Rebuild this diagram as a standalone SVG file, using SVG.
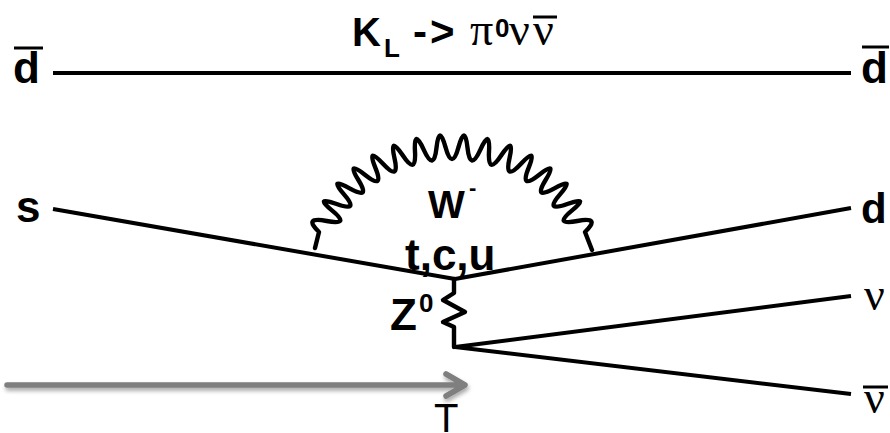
<svg xmlns="http://www.w3.org/2000/svg" width="890" height="433" viewBox="0 0 890 433">
<style>
.l{fill:none;stroke:#000;stroke-width:4;stroke-linecap:butt;stroke-linejoin:round}
.w{fill:none;stroke:#000;stroke-width:4.4;stroke-linejoin:round;stroke-linecap:round}
.b{font-family:"Liberation Sans",Arial,sans-serif;font-weight:700;fill:#000}
.g{font-family:"Liberation Serif","Times New Roman",serif;fill:#000}
.bar{stroke:#000;stroke-width:3;fill:none}
</style>
<defs><filter id="sh" x="-5%" y="-50%" width="110%" height="200%"><feGaussianBlur in="SourceAlpha" stdDeviation="2"/><feOffset dx="1" dy="3"/><feComponentTransfer><feFuncA type="linear" slope="0.35"/></feComponentTransfer><feMerge><feMergeNode/><feMergeNode in="SourceGraphic"/></feMerge></filter></defs>
<rect width="890" height="433" fill="#fff"/>
<g id="connectors">
<path class="l" d="M53 73H851"/>
<path class="l" d="M53 209L455 279L851 208"/>
<path class="l" d="M455 347L851 296"/>
<path class="l" d="M455 347L851 394"/>
<path class="w" d="M315 248L319 232Q302.5 216.4 326.7 221Q351 225.7 332.2 210.6Q313.4 195.6 336.7 204Q360 212.5 344 194.4Q328 176.2 349.6 188.4Q371.2 200.5 358.4 180Q345.6 159.5 365.2 174.9Q384.7 190.3 375.4 167.9Q366.1 145.4 383 163.7Q400 182 394.5 158.3Q389 134.6 402.7 155.3Q416.4 176 415 151.7Q413.5 127.3 423.8 149.8Q434 172.2 436.5 147.8Q439 123.4 445.5 147.2Q452 171 458.5 147.2Q465 123.4 467.5 147.8Q470 172.2 480.3 149.8Q490.5 127.3 489 151.7Q487.6 176 501.3 155.3Q515 134.6 509.5 158.3Q504 182 521 163.7Q537.9 145.4 528.6 167.9Q519.3 190.3 538.9 174.9Q558.4 159.5 545.6 180Q532.8 200.5 554.4 188.4Q576 176.2 560 194.4Q544 212.5 567.3 204Q590.6 195.6 571.8 210.6Q553 225.7 577.3 221Q601.5 216.4 585 232L592 250"/>
<path class="w" d="M454 279V293L443 300L465 312L443 322L454 327V347"/>
<g filter="url(#sh)"><path d="M7 385H463M446 374L465 385L446 396" fill="none" stroke="#7f7f7f" stroke-width="5.5" stroke-linejoin="round" stroke-linecap="round"/></g>
</g>
<g id="title"><text class="b" x="352" y="46" font-size="40">K</text><text class="b" x="384" y="57" font-size="26">L</text><text class="b" x="413" y="46" font-size="42" letter-spacing="3">-&gt;</text><text class="g" x="470" y="45" font-size="46">π</text><text class="b" x="495" y="37" font-size="26">0</text><text class="g" x="509" y="45" font-size="46">ν</text><text class="g" x="533" y="45" font-size="46">ν</text><path class="bar" d="M533 17H557"/></g>
<g id="d-bar-left"><text class="b" x="13" y="83" font-size="44">d</text><path class="bar" d="M14 48H43"/></g>
<g id="d-bar-right"><text class="b" x="861" y="83" font-size="44">d</text><path class="bar" d="M862 47H889"/></g>
<g id="s"><text class="b" x="16" y="222" font-size="44">s</text></g>
<g id="d"><text class="b" x="861" y="223" font-size="42">d</text></g>
<g id="nu"><text class="g" x="864" y="310" font-size="46">ν</text></g>
<g id="nu-bar"><text class="g" x="864" y="413" font-size="46">ν</text><path class="bar" d="M863 387H888"/></g>
<g id="W"><text class="b" x="428" y="218" font-size="39">W</text><text class="b" x="469" y="195" font-size="22">-</text></g>
<g id="tcu"><text class="b" x="405" y="270" font-size="44">t,c,u</text></g>
<g id="Z0"><text class="b" x="390" y="330" font-size="44">Z</text><text class="b" x="419" y="312" font-size="26">0</text></g>
<g id="T"><text x="434" y="432" font-family="Liberation Sans,Arial,sans-serif" font-size="40" fill="#000">T</text></g>
</svg>
